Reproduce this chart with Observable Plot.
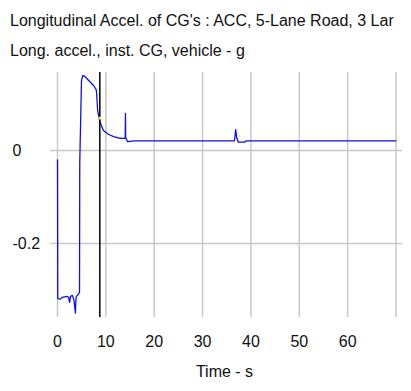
<!DOCTYPE html>
<html>
<head>
<meta charset="utf-8">
<script src="https://cdn.jsdelivr.net/npm/d3@7"></script>
<script src="https://cdn.jsdelivr.net/npm/@observablehq/plot@0.6"></script>
<style>
  body { margin: 0; background: #fff; }
  #wrap { position: relative; width: 411px; height: 391px; overflow: hidden; font-family: "Liberation Sans", Arial, sans-serif; }
  #head { position: relative; height: 60px; width: 411px; }
  .t { position: absolute; left: 10px; font-size: 16px; line-height: 16px; white-space: nowrap; color: #111; }
  svg { display: block; }
</style>
</head>
<body>
<div id="wrap">
  <div id="head">
    <div class="t" style="top:13px">Longitudinal Accel. of CG's : ACC, 5-Lane Road, 3 Lar</div>
    <div class="t" style="top:43px">Long. accel., inst. CG, vehicle - g</div>
  </div>
  <div id="chart"></div>
</div>
<script>
const titleText = "Longitudinal Accel. of CG's : ACC, 5-Lane Road, 3 Lar";
const yLabel = "Long. accel., inst. CG, vehicle - g";
const xLabel = "Time - s";
const xTickValues = [0, 10, 20, 30, 40, 50, 60];
const xGridValues = [0, 10, 20, 30, 40, 50, 60, 70];
const yTickValues = [0, -0.2];
const cursorTime = [8.75];
const cursorValue = [0.07];

const time = [0, 0.05, 0.6, 1.0, 1.9, 2.3, 2.5, 2.7, 3.1, 3.4, 3.7, 3.8, 3.9, 4.3, 4.55, 4.6, 4.96, 5.2, 5.6, 7.45, 8.0, 8.1, 8.3, 8.6, 8.9, 9.5, 10.5, 11.6, 12.6, 13.4, 14.0, 14.05, 14.1, 14.5, 15.9, 36.6, 36.85, 37.05, 37.4, 38.7, 39.0, 70.0];
const accel = [-0.02, -0.319, -0.32, -0.316, -0.314, -0.316, -0.327, -0.314, -0.312, -0.322, -0.35, -0.322, -0.314, -0.31, -0.305, -0.028, 0.15, 0.161, 0.16, 0.14, 0.131, 0.122, 0.086, 0.069, 0.058, 0.043, 0.035, 0.030, 0.027, 0.026, 0.026, 0.08, 0.028, 0.019, 0.021, 0.021, 0.045, 0.028, 0.018, 0.018, 0.021, 0.021];

const series = time.map((t, i) => ({t, a: accel[i]}));
const grid = "#c8c8c8";

const chart = Plot.plot({
  width: 411,
  height: 331,
  marginTop: 12,
  marginBottom: 74,
  marginLeft: 50,
  marginRight: 9,
  style: {fontFamily: "'Liberation Sans', Arial, sans-serif", fontSize: "16px", color: "#111", background: "#fff"},
  x: {domain: [-1.45, 71.35]},
  y: {domain: [-0.3595, 0.168]},
  marks: [
    Plot.gridX(xGridValues, {stroke: grid, strokeOpacity: 1, strokeWidth: 1.5}),
    Plot.gridY(yTickValues, {stroke: grid, strokeOpacity: 1, strokeWidth: 1.5}),
    Plot.axisX(xTickValues, {tickSize: 0, tickPadding: 18, label: null, tickFormat: d => String(d), fontSize: 16}),
    Plot.axisY(yTickValues, {tickSize: 0, tickPadding: 38, textAnchor: "start", label: null, tickFormat: d => String(d), fontSize: 16}),
    Plot.text([xLabel], {text: d => d, frameAnchor: "bottom", lineAnchor: "top", dy: 48, dx: -2, fontSize: 16}),
    Plot.line(series, {x: "t", y: "a", stroke: "#1010e0", strokeWidth: 1.3}),
    Plot.ruleX(cursorTime, {stroke: "#000", strokeWidth: 1.5}),
    Plot.dot(cursorTime.map((t, i) => ({t, v: cursorValue[i]})), {x: "t", y: "v", r: 1.5, fill: "#f0f040", stroke: "none"})
  ]
});
document.getElementById("chart").appendChild(chart);
</script>
</body>
</html>
